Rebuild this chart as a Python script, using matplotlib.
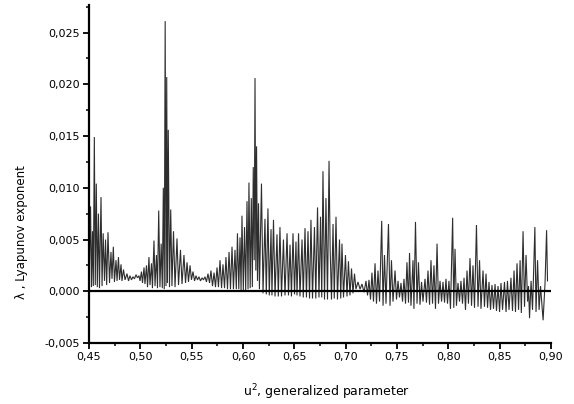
import matplotlib
matplotlib.use("Agg")
import matplotlib.pyplot as plt
from matplotlib.ticker import MultipleLocator, FuncFormatter

# Generalized parameter u^2 and the largest Lyapunov exponent (local extrema of the scan)
u_sq = [
    0.4500, 0.4515, 0.4524, 0.4534, 0.4542, 0.4552, 0.4561, 0.4571, 0.4581, 0.4592,
    0.4602, 0.4617, 0.4627, 0.4638, 0.4651, 0.4661, 0.4672, 0.4685, 0.4700, 0.4714,
    0.4724, 0.4737, 0.4748, 0.4763, 0.4773, 0.4787, 0.4797, 0.4812, 0.4821, 0.4836,
    0.4851, 0.4870, 0.4885, 0.4899, 0.4914, 0.4928, 0.4943, 0.4958, 0.4972, 0.4987,
    0.4997, 0.5011, 0.5021, 0.5036, 0.5045, 0.5060, 0.5070, 0.5084, 0.5094, 0.5109,
    0.5118, 0.5133, 0.5143, 0.5157, 0.5167, 0.5179, 0.5191, 0.5203, 0.5214, 0.5224,
    0.5233, 0.5242, 0.5250, 0.5257, 0.5264, 0.5272, 0.5284, 0.5296, 0.5308, 0.5323,
    0.5338, 0.5357, 0.5372, 0.5391, 0.5406, 0.5425, 0.5440, 0.5455, 0.5469, 0.5484,
    0.5498, 0.5513, 0.5528, 0.5542, 0.5557, 0.5571, 0.5586, 0.5601, 0.5615, 0.5630,
    0.5644, 0.5659, 0.5674, 0.5688, 0.5703, 0.5718, 0.5732, 0.5747, 0.5761, 0.5776,
    0.5791, 0.5805, 0.5820, 0.5834, 0.5849, 0.5864, 0.5878, 0.5893, 0.5907, 0.5922,
    0.5935, 0.5946, 0.5959, 0.5971, 0.5981, 0.5990, 0.6003, 0.6015, 0.6026, 0.6039,
    0.6049, 0.6058, 0.6070, 0.6081, 0.6091, 0.6100, 0.6109, 0.6117, 0.6125, 0.6132,
    0.6141, 0.6151, 0.6160, 0.6180, 0.6195, 0.6214, 0.6227, 0.6243, 0.6256, 0.6273,
    0.6282, 0.6297, 0.6312, 0.6331, 0.6344, 0.6360, 0.6375, 0.6394, 0.6409, 0.6429,
    0.6443, 0.6458, 0.6472, 0.6487, 0.6502, 0.6516, 0.6526, 0.6541, 0.6555, 0.6575,
    0.6587, 0.6604, 0.6618, 0.6633, 0.6648, 0.6662, 0.6677, 0.6696, 0.6709, 0.6726,
    0.6740, 0.6755, 0.6767, 0.6779, 0.6794, 0.6808, 0.6823, 0.6838, 0.6849, 0.6862,
    0.6877, 0.6889, 0.6906, 0.6920, 0.6940, 0.6952, 0.6964, 0.6979, 0.6998, 0.7013,
    0.7027, 0.7042, 0.7057, 0.7071, 0.7086, 0.7100, 0.7120, 0.7140, 0.7159, 0.7179,
    0.7198, 0.7213, 0.7227, 0.7242, 0.7256, 0.7271, 0.7286, 0.7300, 0.7315, 0.7330,
    0.7351, 0.7364, 0.7378, 0.7393, 0.7417, 0.7432, 0.7446, 0.7461, 0.7481, 0.7495,
    0.7510, 0.7524, 0.7539, 0.7554, 0.7568, 0.7583, 0.7597, 0.7612, 0.7622, 0.7636,
    0.7656, 0.7665, 0.7680, 0.7695, 0.7709, 0.7724, 0.7739, 0.7753, 0.7773, 0.7787,
    0.7802, 0.7817, 0.7831, 0.7846, 0.7860, 0.7875, 0.7890, 0.7904, 0.7919, 0.7934,
    0.7948, 0.7963, 0.7977, 0.7992, 0.8006, 0.8021, 0.8042, 0.8053, 0.8065, 0.8079,
    0.8094, 0.8109, 0.8123, 0.8138, 0.8153, 0.8167, 0.8182, 0.8196, 0.8211, 0.8226,
    0.8240, 0.8255, 0.8274, 0.8289, 0.8304, 0.8318, 0.8338, 0.8352, 0.8367, 0.8382,
    0.8396, 0.8411, 0.8425, 0.8440, 0.8455, 0.8469, 0.8484, 0.8499, 0.8513, 0.8528,
    0.8547, 0.8562, 0.8576, 0.8591, 0.8610, 0.8625, 0.8640, 0.8654, 0.8669, 0.8684,
    0.8699, 0.8711, 0.8728, 0.8742, 0.8757, 0.8772, 0.8781, 0.8791, 0.8806, 0.8820,
    0.8843, 0.8854, 0.8869, 0.8884, 0.8898, 0.8923, 0.8942, 0.8957, 0.8966,
]

lyap = [
    0.0003, 0.0082, 0.0004, 0.0058, 0.0005, 0.0149, 0.0006, 0.0104, 0.0004, 0.0075,
    0.0003, 0.0091, 0.0005, 0.0056, 0.0010, 0.0050, 0.0006, 0.0057, 0.0008, 0.0038,
    0.0012, 0.0043, 0.0009, 0.0030, 0.0010, 0.0033, 0.0011, 0.0026, 0.0010, 0.0021,
    0.0011, 0.0017, 0.0010, 0.0015, 0.0011, 0.0014, 0.0012, 0.0016, 0.0013, 0.0015,
    0.0010, 0.0019, 0.0008, 0.0023, 0.0007, 0.0025, 0.0004, 0.0033, 0.0006, 0.0027,
    0.0003, 0.0049, 0.0005, 0.0035, 0.0003, 0.0078, 0.0004, 0.0046, 0.0003, 0.0100,
    0.0002, 0.0261, 0.0005, 0.0207, 0.0008, 0.0156, 0.0004, 0.0079, 0.0005, 0.0058,
    0.0004, 0.0051, 0.0006, 0.0040, 0.0007, 0.0035, 0.0008, 0.0028, 0.0009, 0.0025,
    0.0011, 0.0019, 0.0010, 0.0015, 0.0011, 0.0014, 0.0010, 0.0013, 0.0011, 0.0014,
    0.0009, 0.0017, 0.0008, 0.0020, 0.0005, 0.0018, 0.0004, 0.0023, 0.0004, 0.0030,
    0.0003, 0.0026, 0.0003, 0.0033, 0.0002, 0.0038, 0.0002, 0.0043, 0.0002, 0.0040,
    0.0002, 0.0056, 0.0002, 0.0052, 0.0001, 0.0073, 0.0001, 0.0062, 0.0001, 0.0087,
    0.0002, 0.0105, 0.0003, 0.0090, 0.0004, 0.0120, 0.0030, 0.0206, 0.0020, 0.0140,
    0.0010, 0.0085, 0.0002, 0.0104, -0.0002, 0.0070, -0.0003, 0.0080, -0.0004, 0.0060,
    -0.0004, 0.0069, -0.0005, 0.0055, -0.0005, 0.0062, -0.0005, 0.0050, -0.0004, 0.0056,
    -0.0004, 0.0045, -0.0005, 0.0056, -0.0003, 0.0048, -0.0004, 0.0056, -0.0005, 0.0050,
    -0.0006, 0.0061, -0.0006, 0.0058, -0.0007, 0.0069, -0.0007, 0.0062, -0.0007, 0.0081,
    -0.0006, 0.0072, -0.0006, 0.0116, -0.0008, 0.0090, -0.0008, 0.0126, 0.0040, -0.0008,
    0.0065, -0.0007, 0.0072, -0.0008, 0.0050, -0.0007, 0.0046, -0.0006, 0.0035, -0.0005,
    0.0029, -0.0004, 0.0022, -0.0002, 0.0017, 0.0002, 0.0009, 0.0002, 0.0007, -0.0001,
    0.0010, -0.0004, 0.0011, -0.0008, 0.0018, -0.0010, 0.0027, -0.0012, 0.0020, -0.0010,
    0.0068, -0.0014, 0.0035, -0.0012, 0.0065, -0.0014, 0.0030, -0.0010, 0.0020, -0.0008,
    0.0010, -0.0006, 0.0008, -0.0010, 0.0012, -0.0012, 0.0028, -0.0011, 0.0037, -0.0014,
    0.0030, -0.0017, 0.0067, -0.0012, 0.0028, -0.0013, 0.0009, -0.0010, 0.0012, -0.0011,
    0.0020, -0.0013, 0.0030, -0.0012, 0.0025, -0.0017, 0.0046, -0.0012, 0.0010, -0.0010,
    0.0009, -0.0011, 0.0012, -0.0012, 0.0010, -0.0017, 0.0071, -0.0016, 0.0041, -0.0014,
    0.0008, -0.0010, 0.0010, -0.0012, 0.0013, -0.0018, 0.0020, -0.0012, 0.0032, -0.0014,
    0.0025, -0.0016, 0.0064, -0.0015, 0.0030, -0.0017, 0.0020, -0.0015, 0.0017, -0.0016,
    0.0009, -0.0018, 0.0006, -0.0017, 0.0007, -0.0019, 0.0005, -0.0020, 0.0008, -0.0018,
    0.0009, -0.0020, 0.0010, -0.0018, 0.0013, -0.0019, 0.0020, -0.0020, 0.0027, -0.0018,
    0.0030, -0.0021, 0.0058, -0.0015, 0.0035, -0.0010, 0.0005, -0.0026, 0.0010, -0.0018,
    0.0062, -0.0020, 0.0030, -0.0018, 0.0005, -0.0028, 0.0008, 0.0059, 0.0010,
]

x_ticks = [0.45, 0.50, 0.55, 0.60, 0.65, 0.70, 0.75, 0.80, 0.85, 0.90]
y_ticks = [-0.005, 0.000, 0.005, 0.010, 0.015, 0.020, 0.025]

plt.rcParams["font.family"] = ["DejaVu Sans"]

fig = plt.figure(figsize=(5.74, 4.04), dpi=100)
ax = fig.add_axes([89 / 574, 1 - 343 / 404, (551 - 89) / 574, (343 - 5) / 404])

ax.plot(u_sq, lyap, color="#2e2e2e", lw=0.8, solid_joinstyle="miter")
ax.axhline(0.0, color="black", lw=1.6)

ax.set_xlim(0.45, 0.90)
ax.set_ylim(-0.005, 0.02766)

ax.set_xticks(x_ticks)
ax.set_yticks(y_ticks)
ax.xaxis.set_minor_locator(MultipleLocator(0.025))
ax.yaxis.set_minor_locator(MultipleLocator(0.0025))
ax.xaxis.set_major_formatter(FuncFormatter(lambda v, p: f"{v:.2f}".replace(".", ",")))
ax.yaxis.set_major_formatter(FuncFormatter(lambda v, p: f"{v:.3f}".replace(".", ",").replace("\u2212", "-")))

for side in ("top", "right"):
    ax.spines[side].set_visible(False)
for side in ("left", "bottom"):
    ax.spines[side].set_linewidth(1.6)
    ax.spines[side].set_color("black")

ax.tick_params(axis="both", which="major", direction="out", length=4, width=1.3,
               labelsize=8, colors="black", pad=2.5)
ax.tick_params(axis="both", which="minor", direction="out", length=2.5, width=1.1)

fig.text(22 / 574, 1 - 232 / 404, "\u03bb , Lyapunov exponent", rotation=90,
         ha="center", va="center", fontsize=8.5)
fig.text(327 / 574, 1 - 392 / 404, "u$^{2}$, generalized parameter",
         ha="center", va="center", fontsize=9)

fig.savefig("out.png", dpi=100, facecolor="white")
